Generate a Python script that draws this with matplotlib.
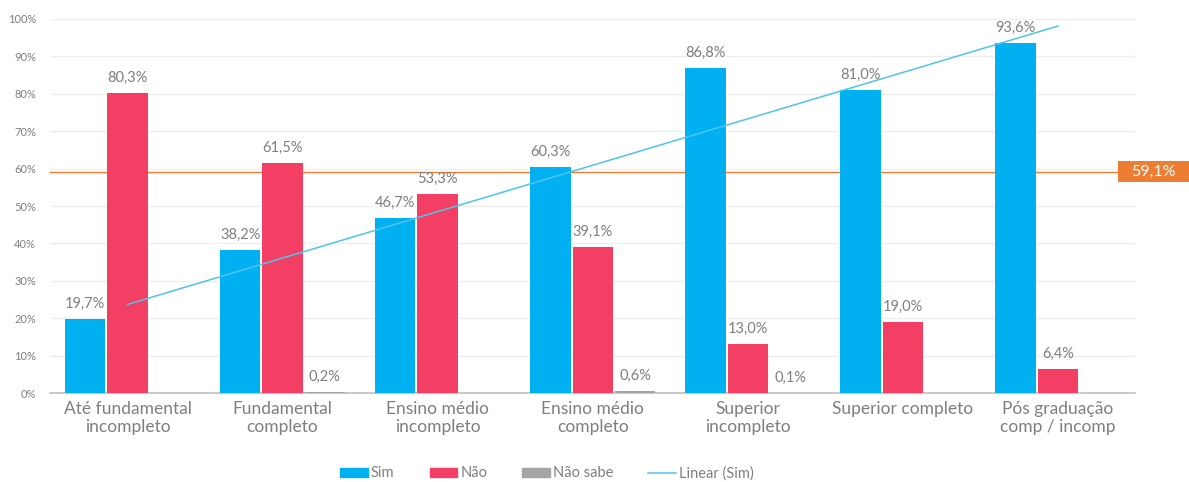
import numpy as np
import matplotlib.pyplot as plt
from matplotlib.patches import Patch, Rectangle
from matplotlib.lines import Line2D
from matplotlib.transforms import blended_transform_factory

plt.rcParams['font.family'] = ['Lato', 'DejaVu Sans']

categorias = ["Até fundamental\nincompleto", "Fundamental\ncompleto", "Ensino médio\nincompleto",
              "Ensino médio\ncompleto", "Superior\nincompleto", "Superior completo",
              "Pós graduação\ncomp / incomp"]
sim = [19.7, 38.2, 46.7, 60.3, 86.8, 81.0, 93.6]
nao = [80.3, 61.5, 53.3, 39.1, 13.0, 19.0, 6.4]
nao_sabe = [np.nan, 0.2, np.nan, 0.6, 0.1, np.nan, np.nan]
media = 59.1

c_sim = '#00B0F0'
c_nao = '#F23F63'
c_ns = '#A5A5A5'
c_txt = '#7F7F7F'
c_media = '#ED7D31'

fig = plt.figure(figsize=(11.89, 4.82), dpi=100)
ax = fig.add_axes([0.042, 0.1846, 0.913, 0.776])

x = np.arange(len(categorias))
w = 0.26
gap = 0.013
for vals, off, cor in [(sim, -(w + gap), c_sim), (nao, 0, c_nao), (nao_sabe, w + gap, c_ns)]:
    v = np.array(vals, dtype=float)
    ax.bar(x + off, np.nan_to_num(v), w, color=cor, zorder=3)
    for xi, vi in zip(x + off, v):
        if not np.isnan(vi):
            ax.text(xi, vi + 2.2, f"{vi:.1f}%".replace('.', ','), ha='center', va='bottom',
                    fontsize=10.5, color=c_txt, zorder=5)

# linha de tendência linear (Sim)
coef = np.polyfit(x, sim, 1)
ax.plot(x, np.polyval(coef, x), color='#4FC3F0', lw=1.1, zorder=4)

# média geral, com rótulo na margem direita
tr = blended_transform_factory(fig.transFigure, ax.transData)
x0 = ax.get_position().x0
caixa_x = 1118 / 1189
ax.plot([x0, caixa_x], [media, media], transform=tr, color=c_media, lw=1, zorder=2, clip_on=False)
ax.add_patch(Rectangle((caixa_x, media - 2.8), 1 - caixa_x, 5.6, transform=tr,
                       fc=c_media, ec='none', clip_on=False, zorder=6))
ax.text((caixa_x + 1) / 2, media, f"{media:.1f}%".replace('.', ','), transform=tr,
        ha='center', va='center', fontsize=11.5, color='white', clip_on=False, zorder=7)

ax.set_xlim(-0.5, len(categorias) - 0.5)
ax.set_ylim(0, 100)
ax.set_yticks(np.arange(0, 101, 10))
ax.set_yticklabels([f"{t}%" for t in range(0, 101, 10)], fontsize=8, color=c_txt)
ax.set_xticks(x)
ax.set_xticklabels(categorias, fontsize=12.5, color=c_txt, linespacing=1.15)
ax.tick_params(length=0, pad=6)
ax.tick_params(axis='y', pad=10)
ax.grid(axis='y', color='#EFEFEF', lw=1, zorder=0)
for s in ['top', 'right', 'left']:
    ax.spines[s].set_visible(False)
ax.spines['bottom'].set_color('#BFBFBF')
ax.spines['bottom'].set_linewidth(1.2)

handles = [Patch(color=c_sim, label='Sim'), Patch(color=c_nao, label='Não'),
           Patch(color=c_ns, label='Não sabe'),
           Line2D([], [], color='#4FC3F0', lw=1.1, label='Linear (Sim)')]
fig.legend(handles=handles, loc='center', bbox_to_anchor=(0.46, 0.018), ncol=4, frameon=False,
           fontsize=10.5, labelcolor=c_txt, handlelength=1.9, handleheight=0.55,
           handletextpad=0.2, columnspacing=2.4)

fig.savefig('out.png', dpi=100)
